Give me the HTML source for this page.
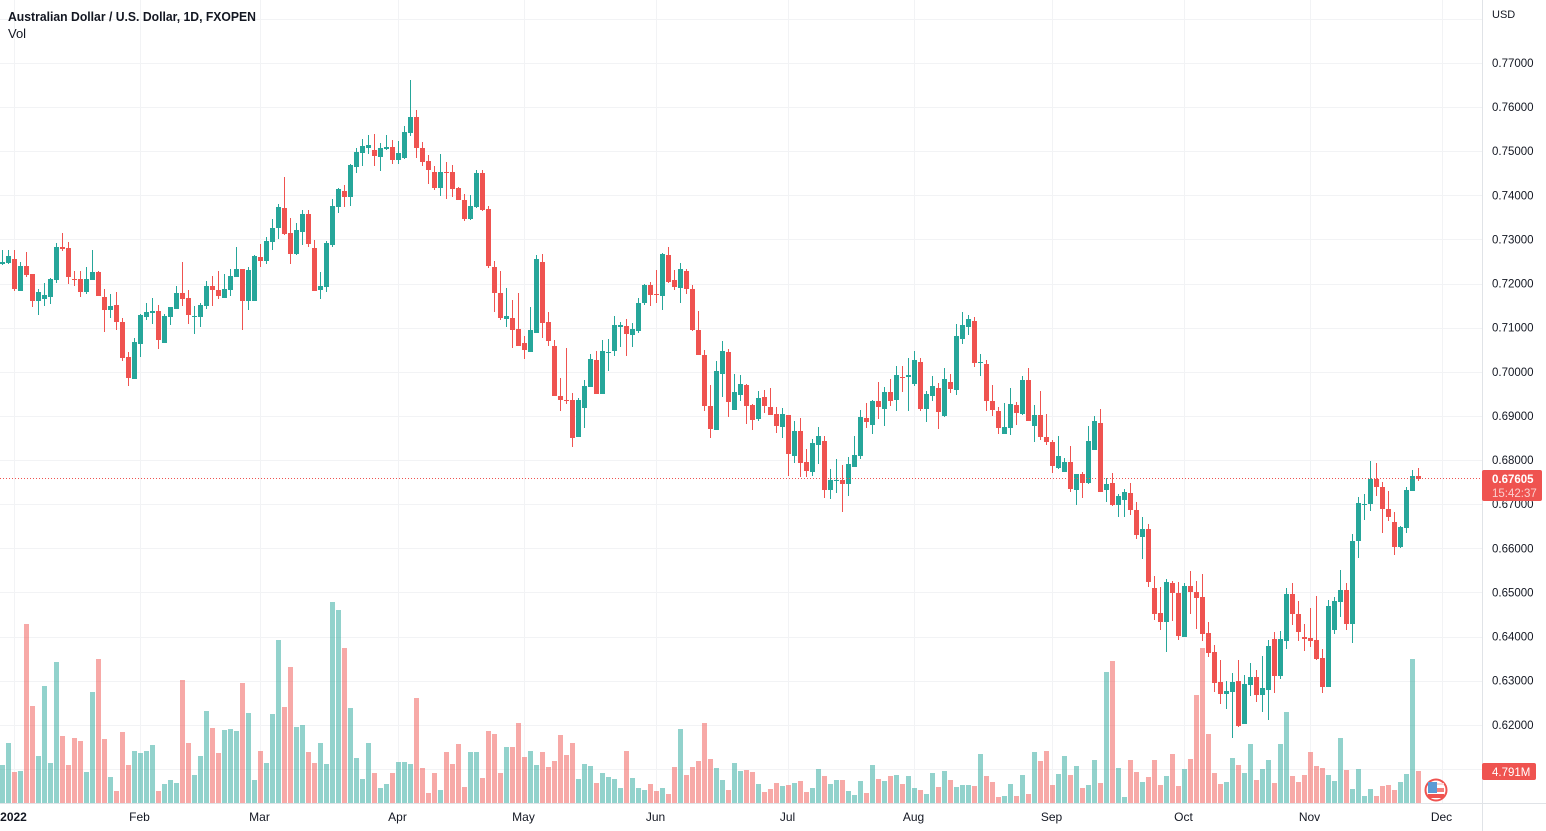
<!DOCTYPE html>
<html lang="en">
<head>
<meta charset="utf-8">
<title>AUD/USD Daily Chart</title>
<style>
html,body{margin:0;padding:0;background:#fff;width:1546px;height:831px;overflow:hidden}
svg{display:block;font-family:"Liberation Sans",Arial,sans-serif}
text{fill:#131722}
</style>
</head>
<body>
<svg id="chart" xmlns="http://www.w3.org/2000/svg" width="1546" height="831" viewBox="0 0 1546 831">
  <g id="grid" shape-rendering="crispEdges"></g>
  <g id="vols" shape-rendering="crispEdges"></g>
  <g id="candles" shape-rendering="crispEdges"></g>
  <g id="axes"></g>
  <text x="8" y="21" font-size="13" font-weight="bold" textLength="248" lengthAdjust="spacingAndGlyphs">Australian Dollar / U.S. Dollar, 1D, FXOPEN</text>
  <text x="8" y="38" font-size="13">Vol</text>
  <text x="1492" y="18" font-size="11">USD</text>
  <g>
    <circle cx="1436" cy="790" r="10.5" fill="#fff" stroke="#ef5350" stroke-width="2"/>
    <rect x="1428" y="782" width="9" height="11" fill="#5b9bd5"/>
    <rect x="1437" y="783" width="7" height="2" fill="#fbd5d4"/>
    <rect x="1437" y="788" width="7" height="4" fill="#f47f7c"/>
    <rect x="1428" y="794" width="16" height="4" fill="#ef5350"/>
  </g>
</svg>
<script>
const opens=[.7245,.7248,.7257,.7184,.7241,.7223,.7162,.7166,.7171,.7209,.7284,.7282,.7211,.7211,.7182,.7209,.7227,.7171,.7141,.7153,.7114,.7035,.6985,.7064,.7125,.7134,.7139,.7066,.7125,.7143,.7179,.7168,.7125,.7125,.7150,.7196,.7187,.7168,.7187,.7216,.7234,.7162,.7162,.7261,.7252,.7295,.7327,.7372,.7316,.7268,.7318,.7359,.7282,.7187,.7193,.7289,.7375,.7411,.7397,.7465,.7497,.7508,.7504,.7488,.7506,.7510,.7481,.7486,.7542,.7579,.7508,.7479,.7454,.7417,.7454,.7454,.7417,.7391,.7347,.7375,.7451,.7370,.7239,.7179,.7121,.7123,.7098,.7066,.7046,.7089,.7250,.7114,.7059,.6947,.6937,.6937,.6853,.6919,.6966,.7028,.6950,.7044,.7048,.7103,.7105,.7084,.7093,.7157,.7198,.7177,.7173,.7266,.7209,.7191,.7230,.7189,.7096,.7039,.6923,.6869,.6996,.7046,.6915,.6948,.6971,.6926,.6894,.6944,.6921,.6905,.6876,.6903,.6810,.6867,.6797,.6774,.6835,.6844,.6733,.6754,.6756,.6747,.6785,.6810,.6896,.6880,.6935,.6917,.6955,.6937,.6989,.6989,.6973,.7023,.6917,.6947,.6964,.6901,.6978,.6960,.7075,.7103,.7116,.7021,.7019,.6935,.6912,.6860,.6874,.6926,.6905,.6983,.6878,.6903,.6853,.6842,.6783,.6774,.6797,.6733,.6769,.6749,.6824,.6885,.6733,.6749,.6699,.6711,.6726,.6688,.6627,.6645,.6511,.6454,.6434,.6522,.6500,.6400,.6515,.6502,.6491,.6409,.6366,.6298,.6271,.6275,.6300,.6203,.6291,.6309,.6268,.6280,.6396,.6312,.6391,.6497,.6452,.6400,.6398,.6393,.6352,.6287,.6416,.6479,.6507,.6429,.6618,.6699,.6702,.6758,.6740,.6690,.6661,.6604,.6647,.6731,.6765];
const highs=[.7277,.7277,.7277,.7250,.7273,.7223,.7189,.7202,.7213,.7293,.7316,.7295,.7230,.7230,.7239,.7277,.7230,.7189,.7177,.7182,.7123,.7046,.7078,.7132,.7157,.7168,.7153,.7132,.7148,.7196,.7250,.7187,.7150,.7157,.7207,.7218,.7230,.7223,.7234,.7284,.7234,.7239,.7266,.7291,.7306,.7347,.7381,.7443,.7350,.7338,.7368,.7368,.7300,.7227,.7298,.7393,.7417,.7424,.7472,.7508,.7529,.7538,.7540,.7519,.7538,.7527,.7524,.7558,.7663,.7595,.7522,.7493,.7467,.7495,.7477,.7470,.7420,.7404,.7402,.7459,.7459,.7377,.7252,.7230,.7191,.7164,.7179,.7082,.7148,.7266,.7268,.7137,.7073,.6987,.7055,.6953,.6941,.6983,.7041,.7048,.7073,.7075,.7128,.7114,.7121,.7112,.7168,.7200,.7205,.7232,.7270,.7284,.7232,.7248,.7234,.7198,.7139,.7051,.6971,.7026,.7071,.7053,.6996,.6994,.6973,.6928,.6957,.6960,.6964,.6921,.6919,.6903,.6890,.6896,.6826,.6849,.6876,.6856,.6781,.6803,.6790,.6808,.6856,.6915,.6930,.6937,.6978,.6966,.6985,.7014,.7014,.7032,.7048,.7032,.6957,.6992,.6976,.7010,.6996,.7110,.7137,.7130,.7125,.7041,.7028,.6971,.6921,.6930,.6964,.6933,.6992,.7010,.6926,.6957,.6905,.6847,.6856,.6806,.6833,.6769,.6774,.6878,.6901,.6917,.6760,.6772,.6724,.6735,.6749,.6706,.6672,.6656,.6538,.6513,.6532,.6527,.6525,.6522,.6550,.6527,.6543,.6434,.6382,.6348,.6300,.6318,.6348,.6314,.6341,.6325,.6357,.6393,.6411,.6414,.6511,.6522,.6482,.6429,.6466,.6493,.6373,.6484,.6491,.6552,.6522,.6634,.6718,.6724,.6799,.6794,.6751,.6731,.6683,.6651,.6740,.6779,.6783];
const lows=[.7243,.7245,.7184,.7184,.7216,.7148,.7130,.7150,.7155,.7202,.7275,.7200,.7196,.7171,.7177,.7209,.7173,.7091,.7123,.7096,.7026,.6969,.6985,.7035,.7119,.7110,.7053,.7066,.7107,.7143,.7150,.7110,.7086,.7103,.7143,.7150,.7166,.7168,.7173,.7216,.7096,.7141,.7162,.7239,.7245,.7277,.7302,.7311,.7245,.7266,.7289,.7284,.7184,.7166,.7182,.7284,.7361,.7375,.7377,.7451,.7467,.7495,.7467,.7456,.7504,.7472,.7472,.7483,.7535,.7486,.7467,.7427,.7413,.7399,.7393,.7397,.7391,.7343,.7345,.7372,.7366,.7237,.7137,.7119,.7103,.7055,.7059,.7030,.7046,.7089,.7078,.7059,.6947,.6912,.6928,.6830,.6853,.6874,.6966,.6950,.6950,.7003,.7037,.7057,.7037,.7057,.7089,.7153,.7150,.7157,.7141,.7202,.7187,.7157,.7177,.7093,.7039,.6912,.6851,.6869,.6944,.6898,.6915,.6935,.6883,.6869,.6890,.6908,.6903,.6862,.6851,.6765,.6794,.6763,.6763,.6765,.6792,.6715,.6713,.6726,.6683,.6720,.6785,.6803,.6874,.6860,.6894,.6878,.6923,.6912,.6955,.6912,.6969,.6912,.6887,.6935,.6871,.6898,.6953,.6948,.7064,.7084,.7012,.6992,.6912,.6901,.6860,.6860,.6858,.6880,.6903,.6890,.6842,.6847,.6835,.6772,.6781,.6774,.6729,.6699,.6715,.6747,.6824,.6729,.6706,.6697,.6672,.6672,.6677,.6622,.6577,.6513,.6439,.6416,.6366,.6436,.6393,.6400,.6452,.6418,.6391,.6354,.6275,.6248,.6237,.6171,.6196,.6203,.6266,.6252,.6230,.6212,.6273,.6305,.6373,.6427,.6391,.6368,.6377,.6348,.6273,.6287,.6407,.6445,.6416,.6386,.6579,.6665,.6686,.6720,.6636,.6663,.6586,.6602,.6636,.6731,.6754];
const closes=[.7250,.7264,.7189,.7241,.7221,.7162,.7182,.7175,.7211,.7284,.7279,.7216,.7209,.7182,.7211,.7227,.7173,.7141,.7150,.7114,.7032,.6987,.7069,.7130,.7137,.7139,.7073,.7128,.7148,.7179,.7166,.7130,.7128,.7153,.7196,.7187,.7173,.7189,.7218,.7234,.7162,.7232,.7264,.7252,.7298,.7327,.7375,.7313,.7268,.7323,.7359,.7291,.7184,.7196,.7293,.7377,.7415,.7397,.7470,.7499,.7512,.7515,.7490,.7508,.7510,.7481,.7497,.7545,.7579,.7508,.7477,.7459,.7417,.7454,.7451,.7415,.7391,.7347,.7377,.7451,.7368,.7241,.7179,.7123,.7128,.7096,.7059,.7051,.7096,.7257,.7112,.7071,.6947,.6937,.6935,.6851,.6937,.6969,.7030,.6950,.7048,.7046,.7107,.7107,.7086,.7098,.7157,.7198,.7175,.7175,.7268,.7205,.7193,.7234,.7189,.7096,.7039,.6923,.6871,.7003,.7048,.6933,.6955,.6973,.6923,.6892,.6941,.6923,.6903,.6878,.6905,.6815,.6867,.6794,.6776,.6840,.6856,.6733,.6756,.6756,.6747,.6792,.6813,.6898,.6887,.6935,.6921,.6955,.6935,.6994,.6987,.6994,.7028,.6917,.6950,.6969,.6910,.6985,.6962,.7082,.7107,.7121,.7021,.7023,.6935,.6915,.6874,.6876,.6928,.6908,.6983,.6890,.6903,.6853,.6842,.6788,.6810,.6797,.6735,.6769,.6749,.6844,.6890,.6729,.6747,.6699,.6720,.6729,.6688,.6631,.6645,.6525,.6452,.6434,.6525,.6500,.6402,.6515,.6502,.6488,.6407,.6364,.6296,.6271,.6278,.6298,.6198,.6294,.6309,.6268,.6284,.6380,.6312,.6396,.6497,.6452,.6411,.6396,.6391,.6350,.6287,.6470,.6482,.6507,.6429,.6618,.6704,.6702,.6758,.6740,.6690,.6672,.6604,.6649,.6733,.6765,.6758];
const volumes=[5.7,9,4.65,4.8,26.85,14.55,7.05,17.55,6,21.15,10.05,5.7,9.75,9.3,4.65,16.65,21.6,9.6,3.9,1.8,10.65,5.7,7.8,7.5,7.8,8.7,1.8,2.85,3.45,3,18.45,9,4.2,7.05,13.8,11.25,7.5,10.95,11.1,10.8,18,13.5,3.45,7.8,6,13.35,24.45,14.4,20.4,11.4,11.7,7.65,6,9,5.85,30.15,28.95,23.25,14.25,6.75,3.6,9,4.5,2.25,2.85,4.5,6.15,6.15,5.85,15.75,5.25,1.5,4.5,1.95,7.65,5.85,8.85,2.4,7.65,7.65,3.75,10.8,10.35,4.5,8.4,8.4,12,6.9,7.8,5.7,7.65,5.4,6.3,10.2,7.2,9,3.6,5.85,5.55,3,4.5,3.9,3.6,2.25,7.8,3.75,2.25,1.95,2.85,1.8,2.25,1.35,5.4,11.1,4.2,5.4,6.3,12,6.6,5.25,3.45,1.95,6,4.8,4.95,4.65,2.85,1.65,2.1,3,2.55,2.7,3,3.3,1.65,2.25,5.1,4.05,2.85,3.45,3.45,1.8,1.2,3.3,1.5,5.7,3.6,3.3,4.05,4.2,2.85,4.05,2.25,1.95,1.35,4.5,2.4,4.8,3.45,2.4,2.7,2.7,2.55,7.35,4.05,3.15,.9,1.05,2.85,1.05,4.2,1.35,7.65,6.3,7.8,2.7,4.35,7.05,4.2,5.55,2.25,2.7,6.45,3,19.65,21.3,5.25,.9,6.45,4.65,3.15,3.9,6.45,2.7,4.05,7.35,2.55,5.1,6.6,16.2,23.25,10.35,4.5,2.85,3.15,6.75,5.7,4.5,8.85,3.45,5.1,6.45,3,8.85,13.65,4.05,3.15,4.2,7.65,5.55,5.25,4.2,3.3,9.75,4.95,2.1,5.1,1.05,2.1,1.05,2.55,2.7,1.95,3.15,4.35,21.6,4.791];
const priceTicks=[.77,.76,.75,.74,.73,.72,.71,.70,.69,.68,.67,.66,.65,.64,.63,.62];
const hiddenLabelGrid=[.78,.61];
const monthIndex=[2,23,43,66,87,109,131,152,175,197,218,240];
const monthLabels=['2022','Feb','Mar','Apr','May','Jun','Jul','Aug','Sep','Oct','Nov','Dec'];
const lastPrice=0.67605;
const countdown='15:42:37';
const lastVolumeLabel='4.791M';

const NS='http://www.w3.org/2000/svg';
const UP='#26a69a',DOWN='#ef5350',GRID='#f2f3f5',BORDER='#e0e3e7';
const PLOT_RIGHT=1482,PLOT_BOTTOM=803;
function xOf(i){return 2.5+6*i;}
function yRaw(p){return 725.3-(p-.62)*4412;}
function yOf(p){return Math.round(yRaw(p));}
function volH(v){return Math.round(v/0.15);}
function mk(parent,tag,attrs,txt){
  const el=document.createElementNS(NS,tag);
  for(const k in attrs)el.setAttribute(k,attrs[k]);
  if(txt!==undefined)el.textContent=txt;
  parent.appendChild(el);
  return el;
}
const grid=document.getElementById('grid');
const vols=document.getElementById('vols');
const candles=document.getElementById('candles');
const axes=document.getElementById('axes');

priceTicks.concat(hiddenLabelGrid).forEach(function(p){
  const el=mk(grid,'rect',{x:0,y:Math.floor(yRaw(p)),width:PLOT_RIGHT,height:1,fill:GRID});
  
  
});
monthIndex.forEach(function(m){
  const el=mk(grid,'rect',{x:Math.floor(xOf(m)),y:0,width:1,height:PLOT_BOTTOM,fill:GRID});
  
  
});

volumes.forEach(function(v,i){
  const up=closes[i]>=opens[i];
  const h=volH(v);
  const el=mk(vols,'rect',{x:xOf(i)-2.5,y:PLOT_BOTTOM-h,width:5,height:h,fill:up?UP:DOWN,opacity:.5});
  
  
});

opens.forEach(function(o,i){
  const c=closes[i];
  const col=c>=o?UP:DOWN;
  const g=mk(candles,'g',{fill:col});
  
  
  const hy=yOf(highs[i]),ly=yOf(lows[i]);
  mk(g,'rect',{x:xOf(i)-.5,y:hy,width:1,height:Math.max(1,ly-hy)});
  const t=yOf(Math.max(o,c)),b=yOf(Math.min(o,c));
  mk(g,'rect',{x:xOf(i)-2.5,y:t,width:5,height:Math.max(1,b-t)});
});

const lastLine=mk(axes,'line',{x1:0,x2:PLOT_RIGHT,y1:478.5,y2:478.5,stroke:DOWN,'stroke-width':1,'stroke-dasharray':'1 2'});



const rightBorder=mk(axes,'rect',{x:PLOT_RIGHT,y:0,width:1,height:831,fill:BORDER,'shape-rendering':'crispEdges'});


const bottomBorder=mk(axes,'rect',{x:0,y:PLOT_BOTTOM,width:1546,height:1,fill:BORDER,'shape-rendering':'crispEdges'});



priceTicks.forEach(function(p){
  const el=mk(axes,'text',{x:1492,y:yRaw(p)+3.5,'font-size':11.5},p.toFixed(5));
  
  
});
monthLabels.forEach(function(l,i){
  const el=mk(axes,'text',{x:xOf(monthIndex[i])-1,y:821,'font-size':12,'text-anchor':'middle','font-weight':i===0?'bold':'normal'},l);
  
  
});

const priceTag=mk(axes,'rect',{x:PLOT_RIGHT,y:470,width:60,height:31,rx:2,fill:DOWN});


const priceTxt=mk(axes,'text',{x:1492,y:483,'font-size':11.5,'font-weight':'bold',style:'fill:#fff'},lastPrice.toFixed(5));


const cdTxt=mk(axes,'text',{x:1492,y:497,'font-size':11.5,style:'fill:#fff;opacity:.72'},countdown);



const volTag=mk(axes,'rect',{x:PLOT_RIGHT,y:763,width:54,height:17,rx:2,fill:DOWN});


const volTxt=mk(axes,'text',{x:1492,y:776,'font-size':11.5,style:'fill:#fff'},lastVolumeLabel);


</script>
</body>
</html>
